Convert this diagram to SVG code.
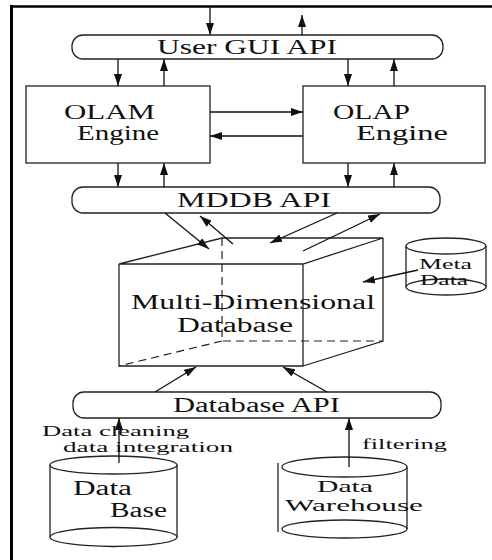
<svg xmlns="http://www.w3.org/2000/svg" width="492" height="560" viewBox="0 0 492 560">
<style>
.b{fill:#fff;stroke:#222;stroke-width:1.3}
.n{fill:none;stroke:#222;stroke-width:1.3}
.d{fill:none;stroke:#222;stroke-width:1.2;stroke-dasharray:8 5}
.c line{stroke:#111;stroke-width:1.3;marker-end:url(#ah)}
text{font-family:"Liberation Serif","Times New Roman",serif;fill:#111}
.t{font-size:20px}
.m{font-size:17px}
.s{font-size:15px}
</style>
<defs>
<marker id="ah" markerUnits="userSpaceOnUse" markerWidth="12" markerHeight="8" refX="12" refY="4" orient="auto">
<path d="M0,0 L12,4 L0,8 z" fill="#111"/>
</marker>
</defs>
<rect width="492" height="560" fill="#fff"/>
<line x1="10" y1="6.5" x2="492" y2="6.5" stroke="#000" stroke-width="2.5"/>
<line x1="11.5" y1="5" x2="11.5" y2="560" stroke="#000" stroke-width="3"/>

<g id="gui">
<rect class="b" x="72" y="35" width="371" height="24" rx="11"/>
<text class="t" x="157" y="54" textLength="180" lengthAdjust="spacingAndGlyphs">User GUI API</text>
</g>
<g id="olam">
<rect class="b" x="26" y="86" width="184" height="77"/>
<text class="t" x="64" y="119" textLength="91" lengthAdjust="spacingAndGlyphs">OLAM</text>
<text class="t" x="77" y="140" textLength="82" lengthAdjust="spacingAndGlyphs">Engine</text>
</g>
<g id="olap">
<rect class="b" x="303" y="86" width="182" height="77"/>
<text class="t" x="333" y="119" textLength="77" lengthAdjust="spacingAndGlyphs">OLAP</text>
<text class="t" x="356" y="140" textLength="92" lengthAdjust="spacingAndGlyphs">Engine</text>
</g>
<g id="mddb">
<rect class="b" x="72" y="187" width="368" height="26" rx="11"/>
<text class="t" x="177" y="207" textLength="154" lengthAdjust="spacingAndGlyphs">MDDB API</text>
</g>
<g id="cube">
<path class="n" d="M119,264 L222,238 L383,238 L303,264 Z M119,264 L119,366 L303,366 L303,264 M303,366 L383,341 L383,238"/>
<path class="d" d="M222,238 L222,341 L383,341 M222,341 L119,366"/>
<text class="t" x="131" y="309" textLength="244" lengthAdjust="spacingAndGlyphs">Multi-Dimensional</text>
<text class="t" x="177" y="332" textLength="116" lengthAdjust="spacingAndGlyphs">Database</text>
</g>
<g id="meta">
<path class="n" d="M406,246 L406,287 M486,246 L486,287"/>
<ellipse class="n" cx="446" cy="246" rx="40" ry="8"/>
<ellipse class="n" cx="446" cy="287" rx="40" ry="8"/>
<text class="s" x="419" y="269" textLength="53" lengthAdjust="spacingAndGlyphs">Meta</text>
<text class="s" x="420" y="285" textLength="48" lengthAdjust="spacingAndGlyphs">Data</text>
</g>
<g id="dbapi">
<rect class="b" x="73" y="392" width="368" height="26" rx="11"/>
<text class="t" x="173" y="412" textLength="167" lengthAdjust="spacingAndGlyphs">Database API</text>
</g>
<g id="database">
<path class="n" d="M50,465 L50,537 M177,465 L177,537"/>
<ellipse class="n" cx="113.5" cy="465" rx="63.5" ry="9"/>
<ellipse class="n" cx="113.5" cy="537" rx="63.5" ry="9.5"/>
<text class="t" x="73" y="495" textLength="59" lengthAdjust="spacingAndGlyphs">Data</text>
<text class="t" x="110" y="517" textLength="57" lengthAdjust="spacingAndGlyphs">Base</text>
</g>
<g id="warehouse">
<path class="n" d="M278,463 L278,532 M407,467 L407,529"/>
<ellipse class="n" cx="344.5" cy="467" rx="62.5" ry="10"/>
<ellipse class="n" cx="344.5" cy="529" rx="62.5" ry="9"/>
<text class="m" x="317" y="492" textLength="56" lengthAdjust="spacingAndGlyphs">Data</text>
<text class="m" x="285" y="511" textLength="138" lengthAdjust="spacingAndGlyphs">Warehouse</text>
</g>
<g id="labels">
<text class="s" x="42" y="436" textLength="147" lengthAdjust="spacingAndGlyphs">Data cleaning</text>
<text class="s" x="63" y="452" textLength="170" lengthAdjust="spacingAndGlyphs">data integration</text>
<text class="s" x="362" y="449" textLength="85" lengthAdjust="spacingAndGlyphs">filtering</text>
</g>
<g id="connectors" class="c">
<line x1="210" y1="6" x2="210" y2="35"/>
<line x1="302" y1="35" x2="302" y2="15"/>
<line x1="118" y1="59" x2="118" y2="86"/>
<line x1="164" y1="86" x2="164" y2="59"/>
<line x1="348" y1="59" x2="348" y2="86"/>
<line x1="394" y1="86" x2="394" y2="59"/>
<line x1="210" y1="112" x2="303" y2="112"/>
<line x1="303" y1="136" x2="210" y2="136"/>
<line x1="118" y1="163" x2="118" y2="187"/>
<line x1="164" y1="187" x2="164" y2="163"/>
<line x1="348" y1="163" x2="348" y2="187"/>
<line x1="394" y1="187" x2="394" y2="163"/>
<line x1="165" y1="213" x2="209" y2="249"/>
<line x1="233" y1="244" x2="200" y2="216"/>
<line x1="337" y1="213" x2="270" y2="243"/>
<line x1="303" y1="251" x2="380" y2="214"/>
<line x1="418" y1="270" x2="363" y2="282"/>
<line x1="155" y1="392" x2="196" y2="367"/>
<line x1="327" y1="392" x2="283" y2="367"/>
<line x1="119" y1="463" x2="119" y2="418"/>
<line x1="349" y1="467" x2="349" y2="418"/>
</g>
</svg>
